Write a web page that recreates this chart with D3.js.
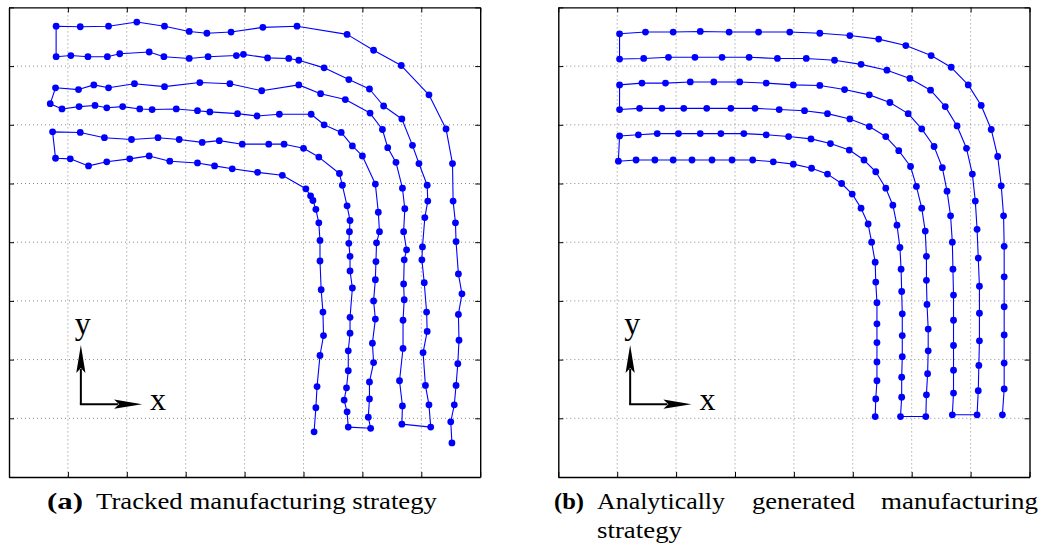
<!DOCTYPE html>
<html>
<head>
<meta charset="utf-8">
<script src="https://cdn.jsdelivr.net/npm/d3@7"></script>
<style>
  body { margin: 0; background: #fff; }
  svg { display: block; }
</style>
</head>
<body>
<svg id="chart" width="1046" height="543"></svg>
<script>
// ─── Data (mm, grid every 10) ──────────────────────────────────────

// (a) tracked tool path, one continuous polyline
const trackedX = [
  75.2, 75.0, 75.6, 75.9, 76.2, 76.4, 76.3, 76.9, 76.3, 75.9, 75.8, 75.4, 75.3, 74.2, 71.3, 66.6, 61.9, 57.4,
  48.9, 43.1, 37.7, 33.6, 30.6, 26.4, 21.7, 16.9, 12.1, 8.0,
  8.0, 10.5, 13.4, 16.7, 18.8, 23.8, 26.3, 30.6, 33.8, 38.6, 39.8, 43.9, 47.5, 49.2, 53.5, 57.7, 61.2, 63.6,
  66.7, 68.5, 69.6, 71.0, 71.1, 70.6, 70.2, 70.1, 70.5, 70.9, 71.0, 70.3, 70.7, 71.3, 71.6,
  66.7, 66.8, 66.3, 66.9, 66.9, 67.1, 67.0, 67.1, 67.5, 67.0, 67.2, 66.8, 65.7, 64.3, 63.4, 61.3, 57.1, 52.9,
  49.2, 42.9, 37.5, 32.4, 26.4, 21.3, 16.9, 14.4, 11.8, 7.9,
  7.0, 9.0, 11.9, 14.6, 16.6, 19.3, 22.2, 24.3, 28.4, 32.0, 34.1, 38.8, 42.1, 45.9, 51.3, 53.5, 56.4, 58.3,
  60.0, 62.2, 62.7, 62.9, 62.4, 62.3, 62.2, 61.9, 62.2, 61.7, 61.9, 61.2, 61.2, 61.0, 61.4,
  57.6, 57.4, 56.9, 57.3, 57.6, 57.6, 57.9, 57.9, 58.3, 57.9, 57.9, 57.7, 57.8, 57.9, 57.4, 56.6, 56.1, 52.6,
  50.0, 46.7, 44.1, 39.6, 35.7, 32.8, 28.9, 25.3, 20.8, 16.2, 12.1, 7.4,
  7.9, 10.4, 13.5, 16.6, 20.5, 23.8, 27.3, 32.0, 34.9, 37.9, 42.2, 46.4, 50.4, 51.2, 51.6, 52.1, 52.6, 52.8,
  52.8, 53.0, 53.3, 53.4, 52.8, 52.3, 52.1, 51.8
];
const trackedY = [
  5.8, 9.4, 12.3, 15.6, 19.3, 23.3, 27.7, 31.2, 34.6, 40.1, 43.3, 47.0, 53.4, 59.3, 65.1, 70.1, 72.7, 75.4,
  76.8, 76.6, 75.8, 75.6, 75.9, 76.8, 77.5, 76.8, 76.7, 76.8,
  71.6, 71.8, 71.6, 71.6, 72.1, 72.4, 71.6, 71.3, 71.6, 71.8, 72.0, 71.4, 71.3, 71.0, 69.7, 67.7, 66.1, 63.2,
  61.0, 56.5, 53.4, 49.7, 47.0, 44.2, 39.2, 37.0, 33.1, 28.1, 24.8, 21.2, 15.6, 12.3, 8.5,
  9.0, 12.1, 16.4, 21.9, 26.7, 30.2, 32.9, 37.0, 38.7, 41.8, 45.7, 49.2, 53.6, 56.1, 59.2, 62.0, 64.3, 65.3,
  66.8, 65.8, 67.0, 67.2, 66.5, 67.0, 66.3, 66.8, 66.0, 66.3,
  63.6, 62.7, 63.1, 63.3, 62.9, 63.1, 62.7, 62.6, 62.7, 62.4, 62.2, 61.9, 61.5, 61.8, 61.8, 60.0, 58.7, 56.4,
  54.7, 49.9, 45.1, 41.8, 39.9, 36.7, 33.6, 30.0, 26.9, 22.8, 19.5, 16.2, 13.3, 10.2, 8.3,
  8.5, 11.1, 13.1, 15.2, 18.1, 21.5, 24.5, 27.2, 32.2, 35.1, 37.6, 39.8, 41.8, 43.7, 46.2, 49.7, 51.7, 54.5,
  56.0, 56.7, 56.7, 56.7, 57.3, 57.0, 57.5, 57.8, 57.5, 57.8, 58.7, 58.8,
  54.3, 54.2, 53.0, 53.7, 54.2, 54.7, 53.8, 53.5, 53.0, 52.5, 51.9, 51.4, 49.1, 47.9, 47.1, 45.6, 43.3, 40.3,
  36.8, 31.9, 28.1, 24.1, 20.7, 15.4, 11.8, 7.7
];

// (b) analytically generated tool path
const plannedX = [
  75.4, 75.7, 75.7, 75.7, 75.7, 75.7, 75.7, 75.6, 75.2, 74.6, 73.5, 71.8, 69.6, 66.7, 63.3, 59.0, 54.4, 49.5,
  44.4, 39.3, 34.0, 29.0, 24.1, 19.5, 14.8, 10.4,
  10.4, 14.5, 18.7, 23.2, 27.8, 32.4, 37.2, 42.1, 46.9, 51.4, 55.8, 59.7, 63.2, 65.7, 67.7, 69.3, 70.3,
  70.8, 71.1, 71.3, 71.5, 71.5, 71.5, 71.4, 71.3, 71.1,
  66.9, 67.1, 67.1, 67.1, 67.1, 67.1, 67.0, 66.9, 66.6, 66.0, 65.2, 63.8, 61.7, 59.4, 56.3, 52.8, 48.6,
  44.4, 39.9, 35.3, 30.8, 26.4, 22.4, 18.2, 14.2, 10.4,
  10.4, 13.8, 17.6, 21.3, 25.2, 29.3, 33.4, 37.5, 41.8, 45.7, 49.5, 52.8, 55.6, 57.8, 59.8, 60.8,
  61.7, 62.3, 62.5, 62.5, 62.6, 62.8, 62.8, 62.7, 62.5, 62.4,
  58.1, 58.3, 58.3, 58.4, 58.4, 58.4, 58.3, 58.2, 58.0, 57.5, 56.8, 55.6, 53.9, 51.9, 49.4, 46.2, 42.9,
  39.1, 35.3, 31.5, 27.6, 24.1, 20.4, 16.8, 13.6, 10.4,
  10.2, 13.2, 16.4, 19.5, 22.7, 26.1, 29.5, 33.0, 36.5, 39.9, 43.0, 45.7, 48.1,
  49.9, 51.4, 52.6, 53.2, 53.8, 53.9, 54.1, 54.1, 54.1, 54.1, 54.1, 53.9, 53.8
];
const plannedY = [
  10.6, 15.0, 19.4, 24.2, 29.0, 34.1, 39.3, 44.5, 49.6, 54.6, 59.2, 63.3, 66.8, 69.8, 71.8, 73.5, 74.6, 75.2,
  75.6, 75.8, 75.8, 75.8, 75.9, 75.8, 75.8, 75.5,
  71.2, 71.3, 71.5, 71.5, 71.5, 71.5, 71.3, 71.3, 71.0, 70.3, 69.3, 67.9, 65.9, 63.1, 59.8, 56.0, 51.6,
  47.0, 42.2, 37.3, 32.5, 27.9, 23.2, 19.0, 14.7, 10.6,
  10.6, 14.3, 18.2, 22.4, 26.7, 31.0, 35.4, 40.0, 44.5, 48.7, 52.7, 56.3, 59.3, 61.9, 63.8, 65.1, 66.0,
  66.7, 66.8, 67.1, 67.3, 67.3, 67.3, 67.1, 67.1, 66.8,
  62.6, 62.8, 62.8, 62.8, 62.8, 62.8, 62.8, 62.6, 62.4, 61.9, 61.0, 59.7, 58.0, 55.6, 52.9, 49.5,
  45.8, 41.9, 37.6, 33.5, 29.4, 25.2, 21.5, 17.6, 14.0, 10.3,
  10.3, 13.6, 17.0, 20.5, 24.1, 27.8, 31.6, 35.4, 39.1, 42.9, 46.3, 49.2, 52.0, 54.0, 55.7, 56.8, 57.6,
  58.0, 58.3, 58.5, 58.5, 58.5, 58.5, 58.5, 58.3, 58.1,
  53.8, 54.0, 54.0, 54.0, 54.0, 54.0, 54.0, 54.0, 53.7, 53.3, 52.6, 51.6, 50.0,
  48.2, 45.8, 43.1, 40.0, 36.6, 33.2, 29.7, 26.1, 22.9, 19.6, 16.4, 13.3, 10.3
];

const gridTicks = [0, 10, 20, 30, 40, 50, 60, 70, 80];

// ─── Layout ────────────────────────────────────────────────────────
const svg = d3.select("#chart");
svg.append("rect").attr("width", 1046).attr("height", 543).attr("fill", "#fff");

const plotTop = 7.4, plotBottom = 477, plotWidth = 471.2;
const blue = "#0000ff";
const serif = "'Liberation Serif', 'Times New Roman', serif";

const panels = [
  { left: 9, xs: trackedX, ys: trackedY },
  { left: 558.3, xs: plannedX, ys: plannedY }
];

panels.forEach((p) => {
  const x = d3.scaleLinear().domain([0, 80]).range([p.left, p.left + plotWidth]);
  const y = d3.scaleLinear().domain([0, 80]).range([plotBottom, plotTop]);
  const g = svg.append("g");

  // dotted grid
  const inner = gridTicks.slice(1, -1);
  g.append("g").selectAll("line").data(inner).join("line")
    .attr("x1", (d) => x(d)).attr("x2", (d) => x(d))
    .attr("y1", plotTop).attr("y2", plotBottom)
    .attr("stroke", "#8a8a8a").attr("stroke-width", 1).attr("stroke-dasharray", "1,3");
  g.append("g").selectAll("line").data(inner).join("line")
    .attr("y1", (d) => y(d)).attr("y2", (d) => y(d))
    .attr("x1", p.left).attr("x2", p.left + plotWidth)
    .attr("stroke", "#8a8a8a").attr("stroke-width", 1).attr("stroke-dasharray", "1,3");

  // frame with inward ticks, no labels
  const axes = [
    [d3.axisBottom(x), `translate(0,${plotBottom})`],
    [d3.axisTop(x), `translate(0,${plotTop})`],
    [d3.axisLeft(y), `translate(${p.left},0)`],
    [d3.axisRight(y), `translate(${p.left + plotWidth},0)`]
  ];
  axes.forEach(([ax, tr]) => {
    const a = g.append("g").attr("transform", tr)
      .call(ax.tickValues(gridTicks).tickSize(-5).tickSizeOuter(0).tickFormat(""));
    a.select(".domain").attr("stroke", "#000").attr("stroke-width", 1.4);
    a.selectAll(".tick line").attr("stroke", "#000").attr("stroke-width", 1);
  });

  // tool path
  const pts = d3.zip(p.xs, p.ys);
  const line = d3.line().x((d) => x(d[0])).y((d) => y(d[1]));
  g.append("path").datum(pts)
    .attr("d", line).attr("fill", "none")
    .attr("stroke", blue).attr("stroke-width", 1.1).attr("stroke-linejoin", "round");
  g.append("g").selectAll("circle").data(pts).join("circle")
    .attr("cx", (d) => x(d[0])).attr("cy", (d) => y(d[1]))
    .attr("r", 3.4).attr("fill", blue);

  // x / y direction arrows
  const ox = x(12.2), oy = y(12.4);
  const upTip = y(22.5), rightTip = x(22.6), head = 28, hw = 4.6;
  g.append("line").attr("x1", ox).attr("y1", oy).attr("x2", ox).attr("y2", upTip + head - 4)
    .attr("stroke", "#000").attr("stroke-width", 2);
  g.append("line").attr("x1", ox - 1).attr("y1", oy).attr("x2", rightTip - head + 4).attr("y2", oy)
    .attr("stroke", "#000").attr("stroke-width", 2);
  g.append("path")
    .attr("d", `M${ox},${upTip} L${ox + hw},${upTip + head} L${ox},${upTip + head - 5} L${ox - hw},${upTip + head} Z`)
    .attr("fill", "#000");
  g.append("path")
    .attr("d", `M${rightTip},${oy} L${rightTip - head},${oy - hw} L${rightTip - head + 5},${oy} L${rightTip - head},${oy + hw} Z`)
    .attr("fill", "#000");
  g.append("text").attr("x", ox + 2).attr("y", oy - 70).attr("text-anchor", "middle")
    .attr("font-family", serif).attr("font-size", 32).text("y");
  g.append("text").attr("x", rightTip + 8).attr("y", oy + 6)
    .attr("font-family", serif).attr("font-size", 32).text("x");
});

// ─── Captions ──────────────────────────────────────────────────────
function word(txt, x0, x1, base, bold) {
  svg.append("text")
    .attr("x", x0).attr("y", base)
    .attr("font-family", serif).attr("font-size", 23)
    .attr("font-weight", bold ? "bold" : "normal")
    .attr("textLength", x1 - x0).attr("lengthAdjust", "spacingAndGlyphs")
    .attr("fill", "#000")
    .text(txt);
}
word("(a)", 47, 83, 509, true);
word("Tracked manufacturing strategy", 96, 437, 509, false);
word("(b)", 554, 584, 509, true);
word("Analytically", 597, 725, 509, false);
word("generated", 752, 855, 509, false);
word("manufacturing", 881, 1038, 509, false);
word("strategy", 597, 682, 538, false);
</script>
</body>
</html>
